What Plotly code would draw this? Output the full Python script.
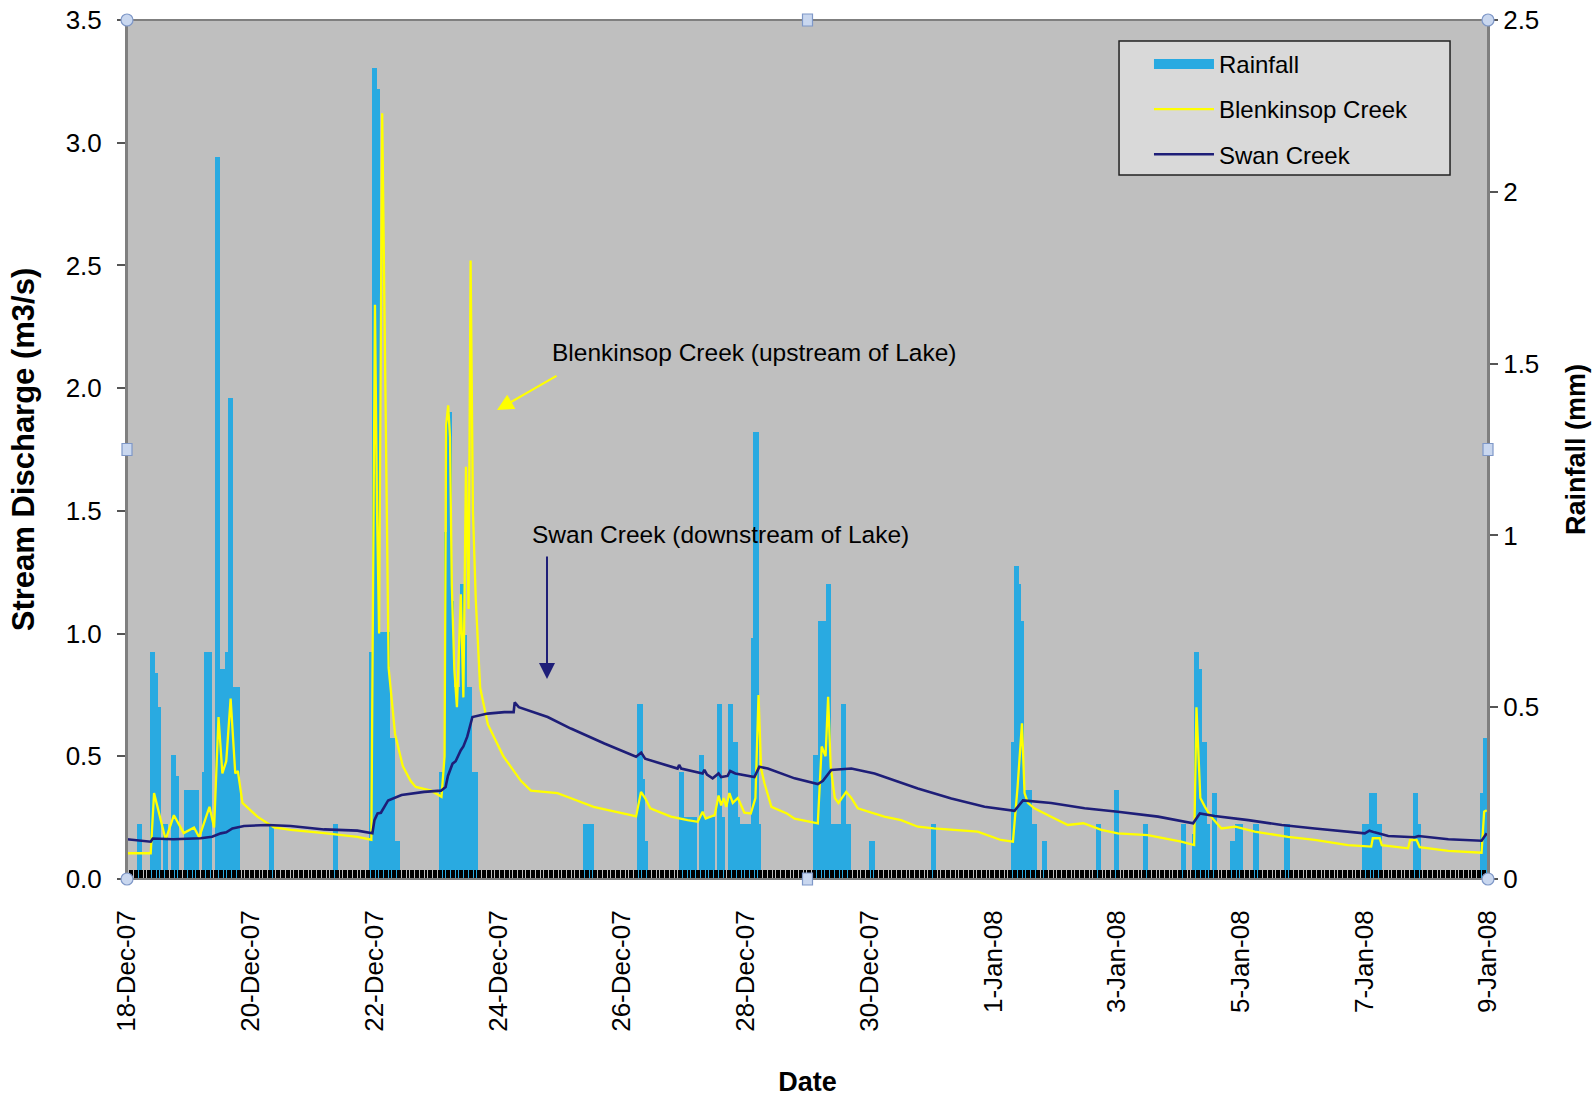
import pandas as pd
import plotly.graph_objects as go

START = pd.Timestamp("2007-12-18")

# ---------------- data (hours after 18-Dec-07 00:00) ----------------
rain_hours = [4, 5, 9, 10, 11, 12, 14, 15, 17, 18, 19, 22, 23, 24, 25, 26, 27, 29, 30, 31, 32,
              34, 35, 36, 37, 38, 39, 40, 41, 42, 43, 55, 56, 80, 81,
              94, 95, 96, 97, 98, 99, 100, 101, 102, 103, 104, 105,
              121, 122, 123, 124, 125, 126, 127, 128, 129, 130, 131, 132, 133, 134, 135,
              177, 178, 179, 180, 198, 199, 200, 201,
              214, 215, 216, 217, 218, 219, 220, 222, 223, 224, 225, 226, 227, 229, 230, 231,
              233, 234, 235, 236, 237, 238, 239, 240, 241, 242, 243, 244, 245,
              266, 267, 268, 269, 270, 271, 272, 273, 274, 275, 276, 277, 278, 279, 280,
              288, 289, 312, 313,
              343, 344, 345, 346, 347, 348, 349, 350, 351, 352, 355, 356, 376, 377, 383, 384,
              394, 395, 409, 410, 413, 414, 415, 416, 417, 418, 419, 421, 422,
              428, 429, 430, 431, 432, 437, 438, 449, 450,
              479, 480, 481, 482, 483, 484, 485, 486, 499, 500, 501, 525, 526, 527]
rain_mm = [0.16, 0.16, 0.66, 0.66, 0.60, 0.50, 0.16, 0.16, 0.36, 0.36, 0.30, 0.26, 0.26, 0.26, 0.26, 0.26, 0.26, 0.31, 0.66, 0.66, 0.66,
           2.10, 2.10, 0.61, 0.61, 0.66, 1.40, 1.40, 0.56, 0.56, 0.56, 0.16, 0.16, 0.16, 0.16,
           0.66, 2.36, 2.36, 2.30, 0.72, 0.72, 0.72, 0.72, 0.41, 0.41, 0.11, 0.11,
           0.31, 0.31, 1.01, 1.36, 1.36, 0.81, 0.56, 0.56, 0.86, 0.86, 0.71, 0.56, 0.56, 0.31, 0.31,
           0.16, 0.16, 0.16, 0.16, 0.51, 0.51, 0.29, 0.11,
           0.31, 0.31, 0.18, 0.18, 0.18, 0.18, 0.18, 0.36, 0.36, 0.18, 0.18, 0.18, 0.18, 0.51, 0.51, 0.18,
           0.51, 0.51, 0.40, 0.40, 0.18, 0.16, 0.16, 0.16, 0.16, 0.70, 1.30, 1.30, 0.16,
           0.36, 0.36, 0.75, 0.75, 0.75, 0.86, 0.86, 0.16, 0.16, 0.16, 0.16, 0.51, 0.51, 0.16, 0.16,
           0.11, 0.11, 0.16, 0.16,
           0.40, 0.91, 0.91, 0.86, 0.75, 0.26, 0.26, 0.26, 0.16, 0.16, 0.11, 0.11, 0.16, 0.16, 0.26, 0.26,
           0.16, 0.16, 0.16, 0.16, 0.13, 0.66, 0.66, 0.61, 0.40, 0.40, 0.16, 0.25, 0.25,
           0.11, 0.11, 0.16, 0.16, 0.16, 0.16, 0.16, 0.16, 0.16,
           0.16, 0.16, 0.16, 0.25, 0.25, 0.25, 0.16, 0.16, 0.25, 0.25, 0.16, 0.25, 0.41, 0.41]

blen_hours = [0, 9.2, 10.5, 13.7, 15, 18.2, 22, 26, 28, 32, 33.8, 35.5, 37, 38.5, 40.2, 42, 43, 44.8,
              50.6, 57, 63.5, 76.5, 89.4, 94.8, 96.2, 97.0, 97.8, 99.0, 99.6, 100.5, 101.5, 104, 107,
              110, 112, 118, 122, 123.2, 123.8, 124.6, 125.3, 126, 127, 128, 129.5, 130.5, 131.5,
              132.5, 133.3, 134.2, 135.3, 137, 140, 146, 152.8, 156.7, 167, 172, 181, 195.5, 197.5,
              199.4, 201, 203, 211, 217.5, 221.4, 223.3, 224.5, 228, 229.5, 230.5, 231.5, 232.5,
              233.7, 235, 237, 239.5, 242, 243.8, 245, 246, 247.3, 250, 256, 259, 268, 269.5, 271,
              272, 273, 274, 274.6, 276, 279, 281, 283.5, 293.8, 300.3, 306.8, 313, 330, 339, 343.7,
              345.5, 347.2, 348.2, 349.5, 352, 358.5, 365, 371, 378, 384.4, 396, 409, 414, 414.9,
              416.4, 418.2, 420.5, 424.6, 430, 437.5, 450.4, 460.8, 473.7, 482.7, 483.3, 486, 486.8,
              497, 497.8, 500.3, 501.5, 512.6, 525.5, 526.5, 527.5]
blen_flow = [0.105, 0.105, 0.35, 0.21, 0.16, 0.26, 0.187, 0.21, 0.17, 0.294, 0.21, 0.66, 0.43, 0.48, 0.735, 0.43, 0.44, 0.31,
             0.254, 0.21, 0.20, 0.187, 0.172, 0.16, 2.34, 1.5, 1.0, 3.12, 2.6, 1.6, 0.86, 0.59, 0.46,
             0.40, 0.375, 0.36, 0.335, 0.5, 1.85, 1.93, 1.80, 1.2, 0.85, 0.70, 1.16, 0.74, 1.68,
             1.1, 2.52, 1.5, 1.14, 0.78, 0.63, 0.50, 0.40, 0.36, 0.35, 0.33, 0.294, 0.26, 0.255,
             0.355, 0.33, 0.288, 0.254, 0.24, 0.233, 0.274, 0.246, 0.26, 0.34, 0.30, 0.33, 0.294,
             0.35, 0.31, 0.33, 0.27, 0.267, 0.33, 0.75, 0.45, 0.39, 0.294, 0.267, 0.246, 0.227, 0.54, 0.50,
             0.742, 0.457, 0.375, 0.33, 0.31, 0.355, 0.33, 0.288, 0.254, 0.24, 0.213, 0.206, 0.193, 0.159, 0.152,
             0.375, 0.634, 0.35, 0.31, 0.288, 0.254, 0.22, 0.227, 0.20, 0.186, 0.179, 0.152, 0.138, 0.70,
             0.33, 0.294, 0.254, 0.206, 0.213, 0.193, 0.172, 0.159, 0.138, 0.132, 0.166, 0.166, 0.138,
             0.125, 0.159, 0.159, 0.13, 0.115, 0.107, 0.274, 0.28]

swan_hours = [0, 9.2, 10, 18, 28.6, 33, 36.4, 38.5, 40.9, 45.4, 54.5, 63.5, 76.5, 89.4, 95.2, 96, 97.2,
              98.5, 101.3, 106.5, 115.3, 121.8, 123.6, 124.5, 126.3, 127.5, 129.5, 130.5, 132, 134,
              139.9, 146.4, 150, 150.4, 152, 163.2, 172.2, 185.2, 197.5, 199.5, 201, 213.6, 214.2, 215,
              223.3, 224, 225, 227.2, 229.5, 230.5, 233, 234, 236, 243.4, 245.3, 248.6, 259, 268, 270,
              273.2, 281, 290, 306.8, 319.8, 332.7, 344.3, 347.6, 358.5, 371.5, 384.4, 400, 413.6,
              416.2, 422, 435, 448, 460.8, 480.2, 482, 484, 489.3, 499.6, 501, 512.6, 525.5, 527.5]
swan_flow = [0.162, 0.152, 0.165, 0.162, 0.166, 0.172, 0.186, 0.19, 0.206, 0.216, 0.22, 0.216, 0.202, 0.197, 0.186, 0.24, 0.267,
             0.27, 0.32, 0.342, 0.355, 0.36, 0.375, 0.42, 0.47, 0.48, 0.525, 0.54, 0.58, 0.66,
             0.674, 0.68, 0.68, 0.72, 0.70, 0.66, 0.613, 0.552, 0.498, 0.515, 0.49, 0.45, 0.465, 0.45,
             0.43, 0.445, 0.425, 0.41, 0.43, 0.415, 0.42, 0.44, 0.43, 0.415, 0.457, 0.45, 0.41, 0.387, 0.40,
             0.444, 0.45, 0.43, 0.369, 0.328, 0.294, 0.278, 0.32, 0.31, 0.288, 0.274, 0.254, 0.227,
             0.267, 0.257, 0.24, 0.22, 0.206, 0.186, 0.197, 0.19, 0.175, 0.17, 0.175, 0.162, 0.156, 0.186]

tick_days = list(range(0, 23, 2))


def to_time(hours):
    return [START + pd.Timedelta(hours=h) for h in hours]


tick_vals = [START + pd.Timedelta(days=d) for d in tick_days]
tick_text = [f"{t.day}-{t.strftime('%b')}-{t.strftime('%y')}" for t in tick_vals]

FONT = "Liberation Sans, Arial, Helvetica, sans-serif"
BLUE = "#29aae1"
YELLOW = "#ffff00"
NAVY = "#1e1e78"

fig = go.Figure()
fig.add_trace(go.Bar(
    x=to_time(rain_hours), y=rain_mm, name="Rainfall",
    width=3600000, offset=0,
    marker=dict(color=BLUE, line=dict(width=0)),
    yaxis="y", showlegend=False,
))
# legend entry for rainfall drawn as a wide block
fig.add_trace(go.Scatter(
    x=[None], y=[None], name="Rainfall", mode="lines",
    line=dict(color=BLUE, width=14), yaxis="y", legendgroup="a",
))
fig.add_trace(go.Scatter(
    x=to_time(blen_hours), y=blen_flow, name="Blenkinsop Creek", mode="lines",
    line=dict(color=YELLOW, width=2.3), yaxis="y2", legendgroup="b",
))
fig.add_trace(go.Scatter(
    x=to_time(swan_hours), y=swan_flow, name="Swan Creek", mode="lines",
    line=dict(color=NAVY, width=2.6), yaxis="y2", legendgroup="c",
))

# plot area in page pixels, as in the reference
PL, PR, PT, PB = 127, 1488, 20, 879
W, H = 1596, 1098

shapes = [
    dict(type="rect", xref="paper", yref="paper", x0=0.7289, x1=0.9721, y0=0.8196, y1=0.9756,
         fillcolor="#d9d9d9", line=dict(color="#222222", width=1.5), layer="below"),
    dict(type="rect", xref="paper", yref="paper", x0=0, x1=1, y0=0, y1=1,
         line=dict(color="#7f7f7f", width=2), layer="above"),
]
for (px, py) in [(0, 0), (0, 1), (1, 0), (1, 1)]:
    shapes.append(dict(type="circle", xref="paper", yref="paper", xsizemode="pixel", ysizemode="pixel",
                       xanchor=px, yanchor=py, x0=-6, x1=6, y0=-6, y1=6,
                       fillcolor="#c9d7ef", line=dict(color="#7f98c8", width=1.2), layer="above"))
for (px, py) in [(0.5, 0), (0.5, 1), (0, 0.5), (1, 0.5)]:
    shapes.append(dict(type="rect", xref="paper", yref="paper", xsizemode="pixel", ysizemode="pixel",
                       xanchor=px, yanchor=py, x0=-5, x1=5, y0=-6, y1=6,
                       fillcolor="#c9d7ef", line=dict(color="#7f98c8", width=1.2), layer="above"))


def pxx(x):
    return (x - PL) / (PR - PL)


def pxy(y):
    return (PB - y) / (PB - PT)


annotations = [
    dict(xref="paper", yref="paper", x=pxx(754), y=pxy(353), text="Blenkinsop Creek (upstream of Lake)",
         showarrow=False, font=dict(family=FONT, size=24.5, color="black")),
    dict(xref="paper", yref="paper", x=pxx(497), y=pxy(410), text="", showarrow=True,
         ax=61, ay=-35, axref="pixel", ayref="pixel", arrowcolor=YELLOW, arrowwidth=2.2,
         arrowhead=2, arrowsize=1.5),
    dict(xref="paper", yref="paper", x=pxx(720), y=pxy(534), text="Swan Creek (downstream of Lake)",
         showarrow=False, font=dict(family=FONT, size=24.5, color="black")),
    dict(xref="paper", yref="paper", x=pxx(547), y=pxy(679), text="", showarrow=True,
         ax=0, ay=-124, axref="pixel", ayref="pixel", arrowcolor=NAVY, arrowwidth=2,
         arrowhead=2, arrowsize=1.6),
]

fig.update_layout(
    width=W, height=H,
    margin=dict(l=PL, r=W - PR, t=PT, b=H - PB, autoexpand=False),
    paper_bgcolor="white", plot_bgcolor="#bfbfbf",
    font=dict(family=FONT, size=24, color="black"),
    bargap=0,
    showlegend=True,
    legend=dict(x=0.7289 + 0.022, y=0.9756 - 0.001, xanchor="left", yanchor="top",
                bgcolor="rgba(0,0,0,0)", borderwidth=0, itemwidth=60,
                tracegroupgap=11, traceorder="grouped",
                font=dict(family=FONT, size=24, color="black")),
    xaxis=dict(
        type="date", range=[START, START + pd.Timedelta(days=22)],
        tickmode="array", tickvals=tick_vals, ticktext=tick_text, tickangle=-90,
        tickfont=dict(family=FONT, size=26), ticks="", ticklabelstandoff=20,
        showline=True, linecolor="black", linewidth=1, showgrid=False, zeroline=False,
        minor=dict(dtick=3600000, tick0=START, ticks="inside", ticklen=9, tickwidth=2.4,
                   tickcolor="black", showgrid=False),
        title=dict(text="<b>Date</b>", font=dict(family=FONT, size=27), standoff=41),
        automargin=False,
    ),
    yaxis=dict(
        range=[0, 2.5], side="right", tick0=0, dtick=0.5,
        ticks="outside", ticklen=8, tickcolor="#555555", tickwidth=1.5,
        tickfont=dict(family=FONT, size=26),
        showline=True, linecolor="#7f7f7f", linewidth=2, showgrid=False, zeroline=False,
        title=dict(text="<b>Rainfall (mm)</b>", font=dict(family=FONT, size=27), standoff=28),
        automargin=False,
    ),
    yaxis2=dict(
        range=[0, 3.5], side="left", overlaying="y", tick0=0, dtick=0.5, tickformat=".1f",
        ticks="outside", ticklen=8, tickcolor="#555555", tickwidth=1.5,
        tickfont=dict(family=FONT, size=26), ticklabelstandoff=10,
        showline=True, linecolor="#7f7f7f", linewidth=2, showgrid=False, zeroline=False,
        title=dict(text="<b>Stream Discharge (m3/s)</b>", font=dict(family=FONT, size=31), standoff=22),
        automargin=False,
    ),
    shapes=shapes,
    annotations=annotations,
)

fig.write_html("out.html", config={"displayModeBar": False},
               post_script="document.body.style.margin='0';")
